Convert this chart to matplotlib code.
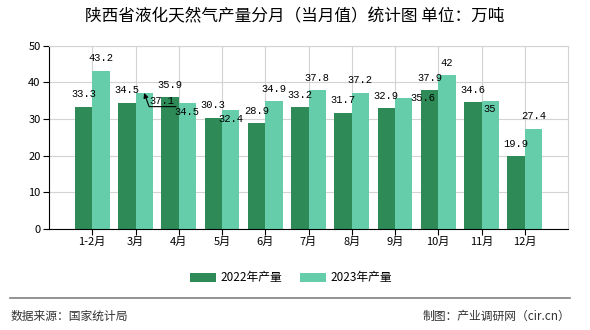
import matplotlib
matplotlib.use("Agg")
import matplotlib.pyplot as plt
import numpy as np

plt.rcParams['font.family'] = ['Noto Sans CJK SC', 'DejaVu Sans']

# 数据
months = ['1-2月', '3月', '4月', '5月', '6月', '7月', '8月', '9月', '10月', '11月', '12月']
y2022 = [33.3, 34.5, 35.9, 30.3, 28.9, 33.2, 31.7, 32.9, 37.9, 34.6, 19.9]
y2023 = [43.2, 37.1, 34.5, 32.4, 34.9, 37.8, 37.2, 35.6, 42, 35, 27.4]
labels = ['2022年产量', '2023年产量']

c22 = '#2e8b57'
c23 = '#66cdaa'

# 标签偏移 (points), 默认在柱子上方
off23 = {2: (0, -6.5), 3: (0, -6.5), 7: (14, 0), 9: (0, -6)}

fig = plt.figure(figsize=(5.9, 3.3), dpi=100)
ax = fig.add_axes([49/590, 1-229/330, (568-49)/590, (229-45.7)/330])

x = np.arange(len(months))
w = 0.4
ax.bar(x - w/2, y2022, w, color=c22, label=labels[0], zorder=2)
ax.bar(x + w/2, y2023, w, color=c23, label=labels[1], zorder=2)

ax.set_xlim(-1, 11)
ax.set_ylim(0, 50)
ax.set_yticks(range(0, 51, 10))
ax.set_xticks(x)
ax.set_xticklabels(months, fontsize=8)
ax.tick_params(axis='y', labelsize=8, length=4, pad=2)
ax.tick_params(axis='x', length=4, pad=2)
ax.grid(True, color='#d3d3d3', lw=0.8, zorder=0)
for s in ['top', 'right']:
    ax.spines[s].set_color('#d3d3d3')
for s in ['left', 'bottom']:
    ax.spines[s].set_color('black')

lf = dict(family='Liberation Mono', fontsize=7.5)
for i, v in enumerate(y2022):
    ax.annotate(str(v), (x[i] - w/2, v), xytext=(0, 9), textcoords='offset points',
                ha='center', va='center', **lf)
for i, v in enumerate(y2023):
    if i == 1:
        # 3月的标签被挤到右边, 带引线
        ax.annotate(str(v), (x[i] + w/2, v), xytext=(13, -5.5), textcoords='offset points',
                    ha='center', va='center', zorder=4,
                    arrowprops=dict(arrowstyle='-|>', color='black', lw=0.8, mutation_scale=7,
                                    connectionstyle='angle,angleA=0,angleB=110,rad=0',
                                    relpos=(1.05, -0.1), patchA=None, shrinkA=0, shrinkB=0), **lf)
        continue
    dx, dy = off23.get(i, (0, 9))
    ax.annotate(str(v), (x[i] + w/2, v), xytext=(dx, dy), textcoords='offset points',
                ha='center', va='center', **lf)

fig.text(0.5, 1-17/330, '陕西省液化天然气产量分月（当月值）统计图 单位：万吨',
         ha='center', va='center', fontsize=12)

fig.legend(loc='center', bbox_to_anchor=(291/590, 1-278/330), ncol=2, frameon=False,
           fontsize=8.5, handlelength=2.2, handleheight=0.8, columnspacing=1.5, handletextpad=0.4)

fig.add_artist(plt.Line2D([10/590, 570/590], [1-298/330, 1-298/330], color='#808080', lw=1.2))
fig.text(11/590, 1-316/330, '数据来源：国家统计局', ha='left', va='center', fontsize=8.5, color='#333333')
fig.text(570/590, 1-316/330, '制图：产业调研网（cir.cn）', ha='right', va='center', fontsize=8.5, color='#333333')

fig.savefig('out.png', dpi=100)
